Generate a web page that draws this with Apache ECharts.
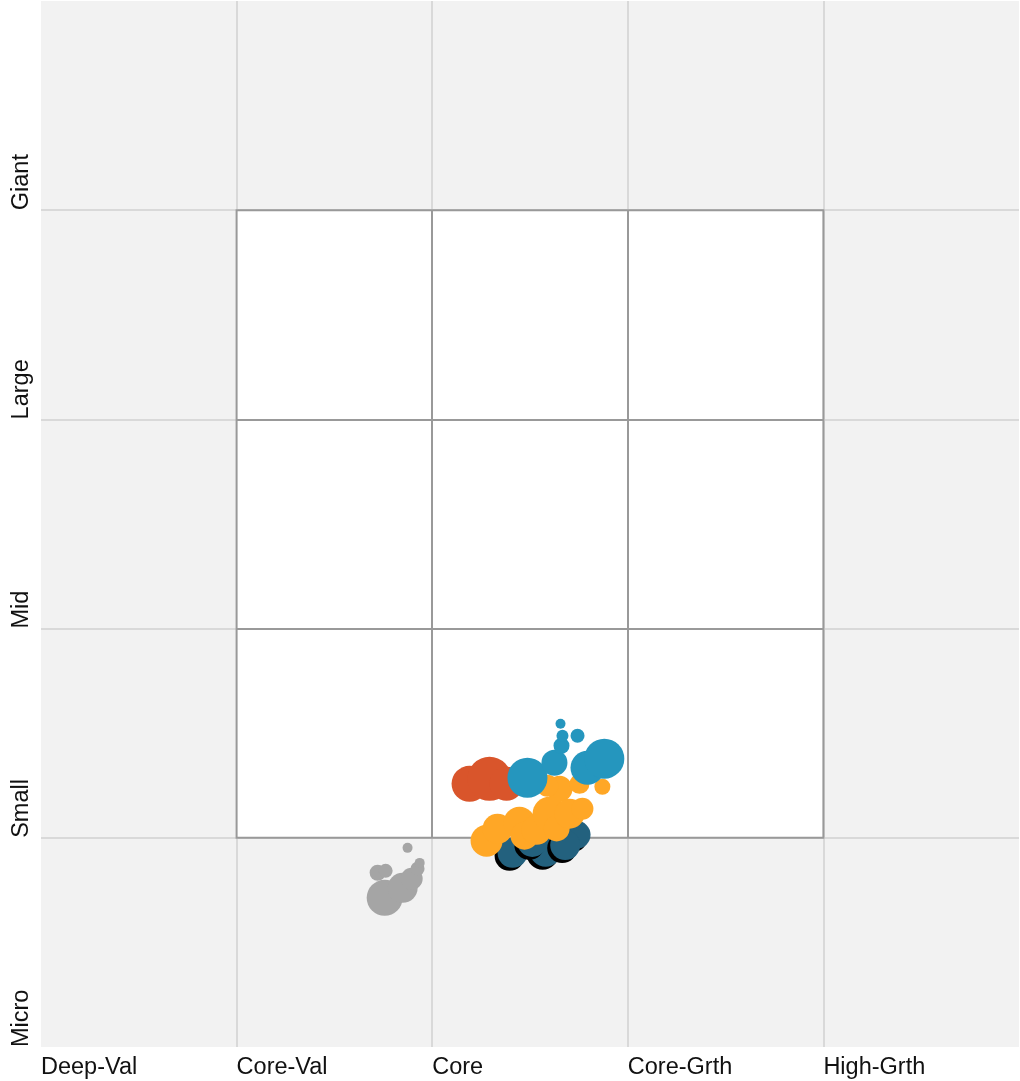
<!DOCTYPE html>
<html>
<head>
<meta charset="utf-8">
<script src="https://cdn.jsdelivr.net/npm/echarts@6/dist/echarts.min.js"></script>
<style>
  html, body { margin: 0; padding: 0; background: #fff; }
  #chart { width: 1020px; height: 1081px; }
</style>
</head>
<body>
<div id="chart"></div>
<script>
// axis labels
const styleLabels = ['Deep-Val', 'Core-Val', 'Core', 'Core-Grth', 'High-Grth']
const sizeLabels = ['Micro', 'Small', 'Mid', 'Large', 'Giant']

// [style, size, bubble diameter]
const grayPoints = [
    [1.874, 0.952, 10], [1.721, 0.833, 16], [1.762, 0.842, 14], [1.757, 0.713, 36],
    [1.849, 0.761, 30], [1.895, 0.804, 22], [1.925, 0.852, 14], [1.936, 0.880, 10],
]
const redPoints = [
    [2.191, 1.258, 36], [2.293, 1.282, 44], [2.380, 1.258, 34],
]
const tealPoints = [
    [2.411, 0.928, 30], [2.580, 0.938, 32], [2.738, 1.014, 28], [2.600, 1.110, 28],
    [2.512, 0.980, 30], [2.680, 0.965, 30],
]
const orangePoints = [
    [2.651, 1.234, 26], [2.589, 1.249, 22], [2.753, 1.258, 20], [2.870, 1.244, 16],
    [2.278, 0.986, 32], [2.334, 1.043, 30], [2.446, 1.072, 32], [2.472, 1.010, 28],
    [2.533, 1.038, 30], [2.600, 1.115, 34], [2.636, 1.045, 26], [2.702, 1.115, 30],
    [2.768, 1.139, 22],
]
const bluePoints = [
    [2.487, 1.287, 40], [2.625, 1.359, 26], [2.661, 1.440, 16], [2.666, 1.488, 12],
    [2.656, 1.545, 10], [2.743, 1.488, 14], [2.794, 1.335, 34], [2.880, 1.378, 40],
]

// style box (Core-Val..High-Grth x Small..Giant)
const boxMin = 1
const boxMax = 4
const boxInner = [2, 3]

const chart = echarts.init(document.getElementById('chart'))

const bubble = (name, data, color, extra) => Object.assign({
    name: name,
    type: 'scatter',
    data: data,
    symbolSize: (v) => v[2],
    itemStyle: {color: color, opacity: 1},
    z: 3,
    silent: true,
}, extra || {})

const innerLines = []
boxInner.forEach(v => {
    innerLines.push([{coord: [v, boxMin]}, {coord: [v, boxMax]}])
    innerLines.push([{coord: [boxMin, v]}, {coord: [boxMax, v]}])
})

const labelFont = {
    fontSize: 23.5,
    fontFamily: 'Liberation Sans, Arial, sans-serif',
    color: '#111',
}

const option = {
    animation: false,
    backgroundColor: '#fff',
    grid: {
        left: 41, right: 1, top: 1, bottom: 34,
        show: true,
        backgroundColor: '#f2f2f2',
        borderWidth: 0,
    },
    xAxis: {
        type: 'value', min: 0, max: 5, interval: 1,
        axisLine: {show: false},
        axisTick: {show: false},
        splitLine: {show: true, showMinLine: false, showMaxLine: false, lineStyle: {color: '#d9d9d9', width: 2}},
        axisLabel: Object.assign({
            formatter: (v) => styleLabels[v] || '',
            align: 'left',
            margin: 9,
            showMaxLabel: false,
        }, labelFont),
    },
    yAxis: {
        type: 'value', min: 0, max: 5, interval: 1,
        axisLine: {show: false},
        axisTick: {show: false},
        splitLine: {show: true, showMinLine: false, showMaxLine: false, lineStyle: {color: '#d9d9d9', width: 2}},
        axisLabel: Object.assign({
            formatter: (v) => sizeLabels[v] || '',
            rotate: 90,
            align: 'left',
            verticalAlign: 'bottom',
            margin: 7,
            showMaxLabel: false,
        }, labelFont),
    },
    series: [
        {
            type: 'scatter',
            data: [],
            z: 1,
            silent: true,
            markArea: {
                silent: true,
                itemStyle: {color: '#fff', borderColor: '#999', borderWidth: 2},
                data: [[{coord: [boxMin, boxMin]}, {coord: [boxMax, boxMax]}]],
            },
            markLine: {
                silent: true,
                symbol: 'none',
                label: {show: false},
                lineStyle: {color: '#999', width: 2, type: 'solid'},
                data: innerLines,
            },
        },
        bubble('gray', grayPoints, '#a5a5a5'),
        bubble('red', redPoints, '#d9552b'),
        bubble('teal', tealPoints, '#23617e', {
            itemStyle: {color: '#23617e', opacity: 1, shadowColor: '#000', shadowBlur: 0, shadowOffsetX: -3, shadowOffsetY: 3},
        }),
        bubble('orange', orangePoints, '#ffa726'),
        bubble('blue', bluePoints, '#2596be'),
    ],
}
chart.setOption(option)
</script>
</body>
</html>
